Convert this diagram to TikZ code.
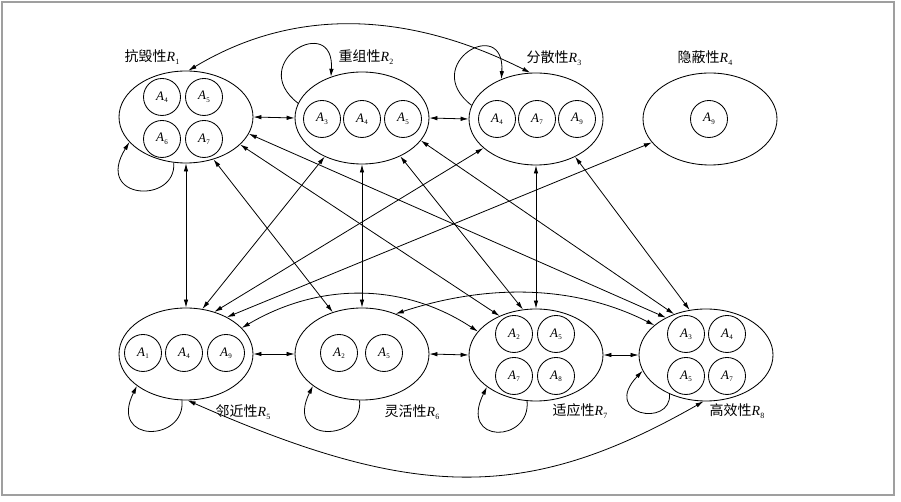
\documentclass[tikz,border=0pt]{standalone}
\usepackage{fontspec}
\setmainfont{Liberation Serif}
\newfontfamily\cjk{Noto Sans CJK SC}
\usetikzlibrary{shapes.geometric,arrows.meta}
\newcommand\Asub[1]{\textit{A}\kern0.3pt\raisebox{-2.5pt}{\fontsize{7}{7}\selectfont #1}}
\newcommand\Rlab[2]{{\cjk #1}\textit{R}\kern0.3pt\raisebox{-3pt}{\fontsize{8}{8}\selectfont #2}}
\begin{document}
\begin{tikzpicture}[x=1pt,y=1pt,
  big/.style={ellipse,draw,line width=0.85pt,minimum width=134pt,minimum height=92pt,inner sep=0pt},
  small/.style={circle,draw,line width=0.85pt,minimum size=37pt,inner sep=0pt,font=\fontsize{13}{15}\selectfont},
  lab/.style={font=\fontsize{14}{16}\selectfont,inner sep=0pt},
  dlink/.style={line width=0.8pt,{Latex[length=8pt,width=4.5pt]}-{Latex[length=8pt,width=4.5pt]}},
  selfloop/.style={line width=0.8pt,-{Latex[length=8pt,width=4.5pt]}}
]
\useasboundingbox (0,0) rectangle (901,502);
\draw[gray!75,line width=1.2pt] (2,7) rectangle (894,500);

% big ellipses
\node[big] (R1) at (186,385) {};
\node[big] (R2) at (362,384) {};
\node[big] (R3) at (536,383) {};
\node[big] (R4) at (710,383) {};
\node[big] (R5) at (186,148) {};
\node[big] (R6) at (362,148) {};
\node[big] (R7) at (536,147) {};
\node[big] (R8) at (706,147) {};

% small circles
\node[small] (a14) at (162,405) {\Asub{4}};
\node[small] (a15) at (204,405) {\Asub{5}};
\node[small] (a16) at (162,363) {\Asub{6}};
\node[small] (a17) at (204,363) {\Asub{7}};
\node[small] (a23) at (322,383) {\Asub{3}};
\node[small] (a24) at (362,383) {\Asub{4}};
\node[small] (a25) at (403,383) {\Asub{5}};
\node[small] (a34) at (497,383) {\Asub{4}};
\node[small] (a37) at (537,383) {\Asub{7}};
\node[small] (a39) at (577,383) {\Asub{9}};
\node[small] (a49) at (709,383) {\Asub{9}};
\node[small] (a51) at (143,149) {\Asub{1}};
\node[small] (a54) at (184,149) {\Asub{4}};
\node[small] (a59) at (226,149) {\Asub{9}};
\node[small] (a62) at (339,149) {\Asub{2}};
\node[small] (a65) at (384,149) {\Asub{5}};
\node[small] (a72) at (514,168) {\Asub{2}};
\node[small] (a75) at (556,168) {\Asub{5}};
\node[small] (a77) at (514,126) {\Asub{7}};
\node[small] (a78) at (556,126) {\Asub{8}};
\node[small] (a83) at (686,168) {\Asub{3}};
\node[small] (a84) at (727,168) {\Asub{4}};
\node[small] (a85) at (686,126) {\Asub{5}};
\node[small] (a87) at (727,126) {\Asub{7}};

% labels
\node[lab] (L1) at (152,445) {\Rlab{抗毁性}{1}};
\node[lab] (L2) at (366,445) {\Rlab{重组性}{2}};
\node[lab] (L3) at (554,444) {\Rlab{分散性}{3}};
\node[lab] (L4) at (705,444) {\Rlab{隐蔽性}{4}};
\node[lab] (L5) at (243,90) {\Rlab{邻近性}{5}};
\node[lab] (L6) at (412,90) {\Rlab{灵活性}{6}};
\node[lab] (L7) at (580,91) {\Rlab{适应性}{7}};
\node[lab] (L8) at (737,91) {\Rlab{高效性}{8}};

% horizontal links
\draw[dlink] (R1.east) -- (R2.west);
\draw[dlink] (R2.east) -- (R3.west);
\draw[dlink] (R5.east) -- (R6.west);
\draw[dlink] (R6.east) -- (R7.west);
\draw[dlink] (R7.east) -- (R8.west);

% vertical links
\draw[dlink] (R1.south) -- (R5.north);
\draw[dlink] (R2.south) -- (R6.north);
\draw[dlink] (R3.south) -- (R7.north);

% diagonal links
\draw[dlink] (R1.-57) -- (R6.125);
\draw[dlink] (R1.-27) -- (R7.133);
\draw[dlink] (R1.-15) -- (R8.137);
\draw[dlink] (R2.-134) -- (R5.70);
\draw[dlink] (R2.-45) -- (R7.106);
\draw[dlink] (R2.-21) -- (R8.128);
\draw[dlink] (R3.-151) -- (R5.56);
\draw[dlink] (R3.-44) -- (R8.110);
\draw[dlink] (R4.-158) -- (R5.42);

% arcs
\draw[dlink] (R1.87) .. controls +(113,68) and +(-113,57) .. (R3.97);
\draw[dlink] (R5.25) .. controls +(76,45) and +(-76,50) .. (R7.158);
\draw[dlink] (R6.50) .. controls +(85,28) and +(-85,43) .. (R8.150);
\draw[dlink] (R5.-88) .. controls +(227,-100) and +(-177,-101) .. (R8.-93);

% self loops
\draw[selfloop] (R1.-105) .. controls +(3,-42) and +(-36,-58) .. (R1.-156);
\draw[selfloop] (R2.167) .. controls +(-53,41) and +(4,65) .. (R2.127);
\draw[selfloop] (R3.168) .. controls +(-53,41) and +(4,65) .. (R3.131);
\draw[selfloop] (R5.-95) .. controls +(4,-42) and +(-29,-58) .. (R5.-147);
\draw[selfloop] (R6.-93) .. controls +(4,-42) and +(-29,-58) .. (R6.-147);
\draw[selfloop] (R7.-101) .. controls +(4,-42) and +(-29,-58) .. (R7.-147);
\draw[selfloop] (R8.-133) .. controls +(2,-34) and +(-42,-44) .. (R8.-166);
\end{tikzpicture}
\end{document}
